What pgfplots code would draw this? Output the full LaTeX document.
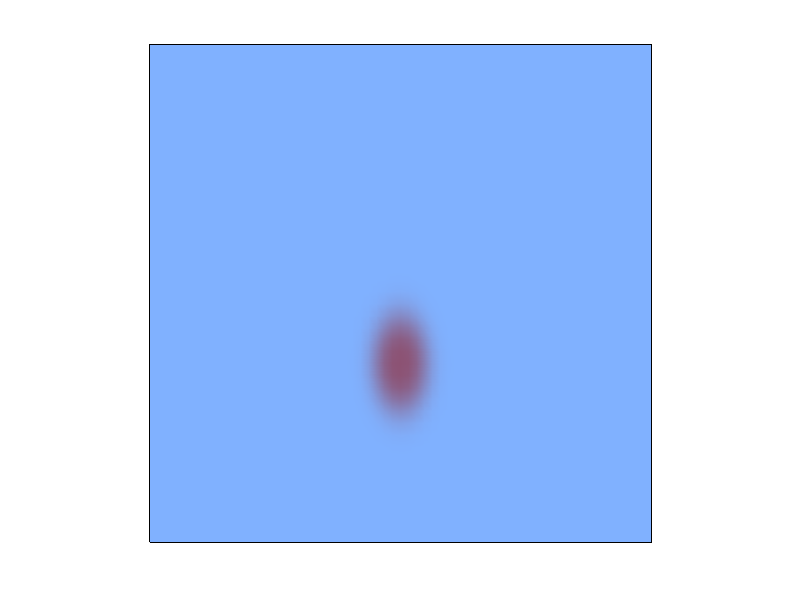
\documentclass[border=0pt]{standalone}
\usepackage{pgfplots}
\pgfplotsset{compat=1.18}
\begin{document}
\begin{tikzpicture}[x=1pt,y=1pt]
\path[use as bounding box] (-112.5pt,-43.5pt) rectangle (487.5pt,406.5pt);
\begin{axis}[
  scale only axis, width=376.5pt, height=373.5pt,
  xmin=0, xmax=502, ymin=0, ymax=498,
  view={0}{90},
  ticks=none,
  axis on top,
  axis line style={black, line width=0.75pt},
  colormap={blob}{rgb255=(128,177,255) rgb255=(140,82,115)},
  point meta min=0, point meta max=1,
]
\addplot3[surf, shader=interp, mesh/rows=23, mesh/cols=17] coordinates {
(0,0,0) (190,0,0) (202,0,0) (210,0,0) (218,0,0) (226,0,0) (234,0,0) (242,0,0) (250,0,0) (258,0,0) (266,0,0) (274,0,0) (282,0,0) (290,0,0) (298,0,0) (310,0,0) (502,0,0)
(0,59,0) (190,59,0) (202,59,0) (210,59,0) (218,59,0) (226,59,0) (234,59,0) (242,59,0) (250,59,0) (258,59,0) (266,59,0) (274,59,0) (282,59,0) (290,59,0) (298,59,0) (310,59,0) (502,59,0)
(0,71,0) (190,71,0) (202,71,0) (210,71,0) (218,71,0) (226,71,0) (234,71,0) (242,71,0) (250,71,0) (258,71,0) (266,71,0) (274,71,0) (282,71,0) (290,71,0) (298,71,0) (310,71,0) (502,71,0)
(0,83,0) (190,83,0) (202,83,0) (210,83,0) (218,83,0) (226,83,0) (234,83,0) (242,83,0) (250,83,0) (258,83,0) (266,83,0) (274,83,0) (282,83,0) (290,83,0) (298,83,0) (310,83,0) (502,83,0)
(0,95,0) (190,95,0) (202,95,0) (210,95,0) (218,95,0) (226,95,0.001) (234,95,0.003) (242,95,0.007) (250,95,0.008) (258,95,0.007) (266,95,0.003) (274,95,0.001) (282,95,0) (290,95,0) (298,95,0) (310,95,0) (502,95,0)
(0,107,0) (190,107,0) (202,107,0) (210,107,0) (218,107,0.002) (226,107,0.009) (234,107,0.023) (242,107,0.040) (250,107,0.048) (258,107,0.040) (266,107,0.023) (274,107,0.009) (282,107,0.002) (290,107,0) (298,107,0) (310,107,0) (502,107,0)
(0,119,0) (190,119,0) (202,119,0) (210,119,0.002) (218,119,0.011) (226,119,0.040) (234,119,0.094) (242,119,0.149) (250,119,0.173) (258,119,0.149) (266,119,0.094) (274,119,0.040) (282,119,0.011) (290,119,0.002) (298,119,0) (310,119,0) (502,119,0)
(0,131,0) (190,131,0) (202,131,0.001) (210,131,0.007) (218,131,0.037) (226,131,0.119) (234,131,0.246) (242,131,0.361) (250,131,0.407) (258,131,0.361) (266,131,0.246) (274,131,0.119) (282,131,0.037) (290,131,0.007) (298,131,0.001) (310,131,0) (502,131,0)
(0,143,0) (190,143,0) (202,143,0.002) (210,143,0.018) (218,143,0.088) (226,143,0.249) (234,143,0.460) (242,143,0.625) (250,143,0.684) (258,143,0.625) (266,143,0.460) (274,143,0.249) (282,143,0.088) (290,143,0.018) (298,143,0.002) (310,143,0) (502,143,0)
(0,155,0) (190,155,0) (202,155,0.004) (210,155,0.035) (218,155,0.155) (226,155,0.393) (234,155,0.662) (242,155,0.839) (250,155,0.894) (258,155,0.839) (266,155,0.662) (274,155,0.393) (282,155,0.155) (290,155,0.035) (298,155,0.004) (310,155,0) (502,155,0)
(0,167,0) (190,167,0) (202,167,0.006) (210,167,0.052) (218,167,0.212) (226,167,0.502) (234,167,0.792) (242,167,0.950) (250,167,0.986) (258,167,0.950) (266,167,0.792) (274,167,0.502) (282,167,0.212) (290,167,0.052) (298,167,0.006) (310,167,0) (502,167,0)
(0,179,0) (190,179,0) (202,179,0.007) (210,179,0.058) (218,179,0.234) (226,179,0.542) (234,179,0.834) (242,179,0.978) (250,179,1.000) (258,179,0.978) (266,179,0.834) (274,179,0.542) (282,179,0.234) (290,179,0.058) (298,179,0.007) (310,179,0) (502,179,0)
(0,191,0) (190,191,0) (202,191,0.006) (210,191,0.052) (218,191,0.212) (226,191,0.502) (234,191,0.792) (242,191,0.950) (250,191,0.986) (258,191,0.950) (266,191,0.792) (274,191,0.502) (282,191,0.212) (290,191,0.052) (298,191,0.006) (310,191,0) (502,191,0)
(0,203,0) (190,203,0) (202,203,0.004) (210,203,0.035) (218,203,0.155) (226,203,0.393) (234,203,0.662) (242,203,0.839) (250,203,0.894) (258,203,0.839) (266,203,0.662) (274,203,0.393) (282,203,0.155) (290,203,0.035) (298,203,0.004) (310,203,0) (502,203,0)
(0,215,0) (190,215,0) (202,215,0.002) (210,215,0.018) (218,215,0.088) (226,215,0.249) (234,215,0.460) (242,215,0.625) (250,215,0.684) (258,215,0.625) (266,215,0.460) (274,215,0.249) (282,215,0.088) (290,215,0.018) (298,215,0.002) (310,215,0) (502,215,0)
(0,227,0) (190,227,0) (202,227,0.001) (210,227,0.007) (218,227,0.037) (226,227,0.119) (234,227,0.246) (242,227,0.361) (250,227,0.407) (258,227,0.361) (266,227,0.246) (274,227,0.119) (282,227,0.037) (290,227,0.007) (298,227,0.001) (310,227,0) (502,227,0)
(0,239,0) (190,239,0) (202,239,0) (210,239,0.002) (218,239,0.011) (226,239,0.040) (234,239,0.094) (242,239,0.149) (250,239,0.173) (258,239,0.149) (266,239,0.094) (274,239,0.040) (282,239,0.011) (290,239,0.002) (298,239,0) (310,239,0) (502,239,0)
(0,251,0) (190,251,0) (202,251,0) (210,251,0) (218,251,0.002) (226,251,0.009) (234,251,0.023) (242,251,0.040) (250,251,0.048) (258,251,0.040) (266,251,0.023) (274,251,0.009) (282,251,0.002) (290,251,0) (298,251,0) (310,251,0) (502,251,0)
(0,263,0) (190,263,0) (202,263,0) (210,263,0) (218,263,0) (226,263,0.001) (234,263,0.003) (242,263,0.007) (250,263,0.008) (258,263,0.007) (266,263,0.003) (274,263,0.001) (282,263,0) (290,263,0) (298,263,0) (310,263,0) (502,263,0)
(0,275,0) (190,275,0) (202,275,0) (210,275,0) (218,275,0) (226,275,0) (234,275,0) (242,275,0) (250,275,0) (258,275,0) (266,275,0) (274,275,0) (282,275,0) (290,275,0) (298,275,0) (310,275,0) (502,275,0)
(0,287,0) (190,287,0) (202,287,0) (210,287,0) (218,287,0) (226,287,0) (234,287,0) (242,287,0) (250,287,0) (258,287,0) (266,287,0) (274,287,0) (282,287,0) (290,287,0) (298,287,0) (310,287,0) (502,287,0)
(0,299,0) (190,299,0) (202,299,0) (210,299,0) (218,299,0) (226,299,0) (234,299,0) (242,299,0) (250,299,0) (258,299,0) (266,299,0) (274,299,0) (282,299,0) (290,299,0) (298,299,0) (310,299,0) (502,299,0)
(0,498,0) (190,498,0) (202,498,0) (210,498,0) (218,498,0) (226,498,0) (234,498,0) (242,498,0) (250,498,0) (258,498,0) (266,498,0) (274,498,0) (282,498,0) (290,498,0) (298,498,0) (310,498,0) (502,498,0)
};
\end{axis}
\end{tikzpicture}
\end{document}
